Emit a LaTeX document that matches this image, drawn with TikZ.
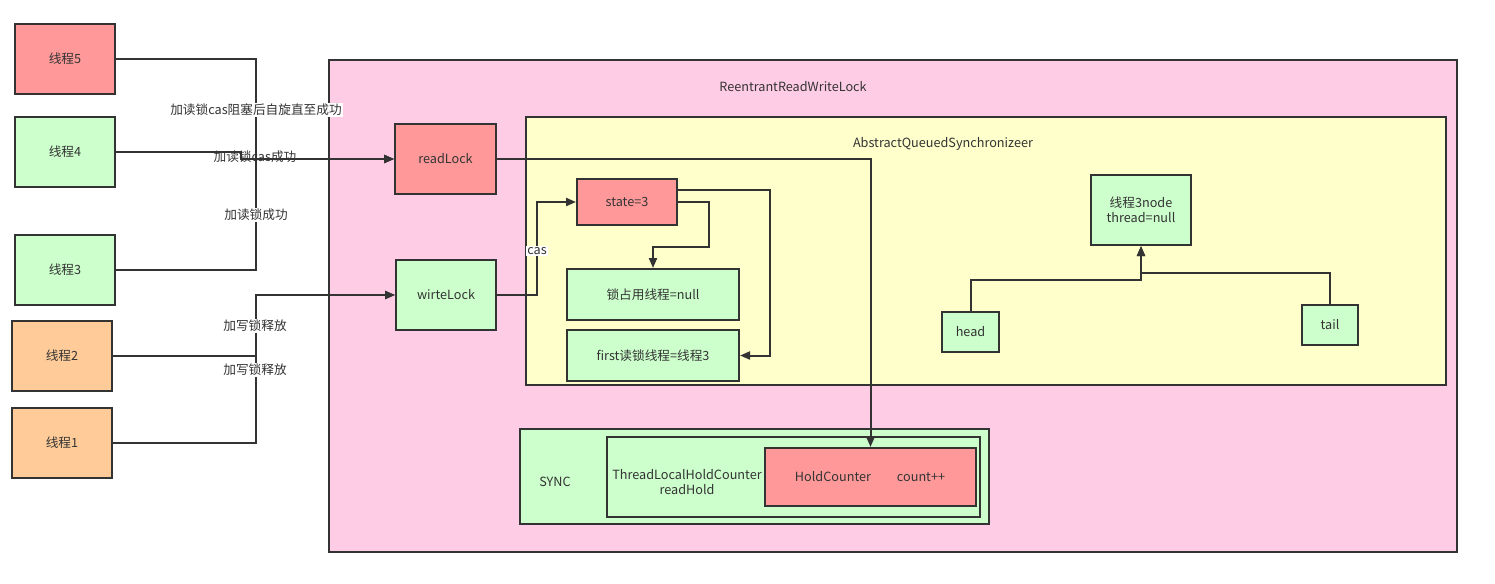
\documentclass[tikz,border=0pt]{standalone}
\usepackage{fontspec}
\setmainfont{Noto Sans CJK SC}
\usetikzlibrary{arrows.meta}
\definecolor{ln}{HTML}{333333}
\definecolor{red1}{HTML}{FF9999}
\definecolor{grn}{HTML}{CCFFCC}
\definecolor{org}{HTML}{FFCC99}
\definecolor{pnk}{HTML}{FFCCE6}
\definecolor{ylw}{HTML}{FFFFCC}
\begin{document}
\begin{tikzpicture}[x=0.75pt,y=-0.75pt,
  font=\fontsize{9.5}{11.5}\selectfont,
  box/.style={draw=ln,line width=1.5pt,text=ln,inner sep=0pt,align=center},
  redbox/.style={box,fill=red1},
  grnbox/.style={box,fill=grn},
  orgbox/.style={box,fill=org},
  conn/.style={draw=ln,line width=1.5pt},
  arr/.style={conn,-{Triangle[length=7.5pt,width=6pt]}},
  lbl/.style={text=ln,inner sep=1pt,fill=white},
  txt/.style={text=ln,inner sep=0pt,align=center}]
\useasboundingbox (0,0) rectangle (1495,583);
% containers
\node[box,fill=pnk,minimum width=1128*0.75pt,minimum height=492*0.75pt] (rrwl) at (893,306) {};
\node[txt] (rrwlt) at (793,87) {ReentrantReadWriteLock};
\node[box,fill=ylw,minimum width=920*0.75pt,minimum height=268*0.75pt] (aqs) at (986,251) {};
\node[txt] (aqst) at (943,144) {AbstractQueuedSynchronizeer};
\node[grnbox,minimum width=469*0.75pt,minimum height=95*0.75pt] (sync) at (754.5,476.5) {};
\node[txt] (synct) at (555,482) {SYNC};
\node[grnbox,minimum width=373*0.75pt,minimum height=80*0.75pt] (tlhc) at (793.5,477) {};
\node[txt] (tlhct) at (687,482) {ThreadLocalHoldCounter\\readHold};
\node[redbox,minimum width=211*0.75pt,minimum height=58*0.75pt] (hc) at (870.5,477) {};
\node[txt] (hct) at (833,477) {HoldCounter};
\node[txt] (cnt) at (921,477) {count++};
% threads
\node[redbox,minimum width=75pt,minimum height=52.5pt] (t5) at (65,59) {线程5};
\node[grnbox,minimum width=75pt,minimum height=52.5pt] (t4) at (65,152) {线程4};
\node[grnbox,minimum width=75pt,minimum height=52.5pt] (t3) at (65,270) {线程3};
\node[orgbox,minimum width=75pt,minimum height=52.5pt] (t2) at (62,356) {线程2};
\node[orgbox,minimum width=75pt,minimum height=52.5pt] (t1) at (62,443) {线程1};
% locks
\node[redbox,minimum width=75.75pt,minimum height=52.5pt] (rl) at (445.5,159) {readLock};
\node[grnbox,minimum width=75pt,minimum height=52.5pt] (wl) at (446,295) {wirteLock};
% aqs contents
\node[redbox,minimum width=75pt,minimum height=34.5pt] (st) at (627,202) {state=3};
\node[grnbox,minimum width=129pt,minimum height=38.25pt] (lo) at (653,294.5) {锁占用线程=null};
\node[grnbox,minimum width=129pt,minimum height=38.25pt] (fr) at (653,355.5) {first读锁线程=线程3};
\node[grnbox,minimum width=75pt,minimum height=52.5pt] (n3) at (1141,210) {线程3node\\thread=null};
\node[grnbox,minimum width=42.75pt,minimum height=30pt] (hd) at (970.5,332) {head};
\node[grnbox,minimum width=42pt,minimum height=30pt] (tl) at (1330,325) {tail};
% connectors
\draw[arr] (t5.east) -- ++(140,0) |- (rl.west);
\draw[arr] (t3.east) -- ++(140,0) |- (rl.west);
\draw[arr] (t4.east) -- ++(125,0) |- (rl.west);
\draw[arr] (t2.east) -- ++(143,0) |- (wl.west);
\draw[arr] (t1.east) -- ++(143,0) |- (wl.west);
\draw[arr] (wl.east) -- ++(40,0) |- (st.west);
\draw[arr] (rl.east) -| (hc.north);
\draw[arr] (st.east) -- ++(31,0) -- ++(0,45) -| (lo.north);
\draw[arr] ([yshift=9pt]st.east) -- ++(92,0) |- (fr.east);
\draw[arr] (hd.north) -- ++(0,-31) -| (n3.south);
\draw[arr] (tl.north) -- ++(0,-31) -| (n3.south);
% labels
\node[lbl] (l1) at (256,110) {加读锁cas阻塞后自旋直至成功};
\node[lbl,fill=none] (l2) at (255,157) {加读锁cas成功};
\node[lbl] (l3) at (256,215) {加读锁成功};
\node[lbl] (l4) at (255,326) {加写锁释放};
\node[lbl] (l5) at (255,370) {加写锁释放};
\node[lbl] (l6) at (537,251) {cas};
\end{tikzpicture}
\end{document}
